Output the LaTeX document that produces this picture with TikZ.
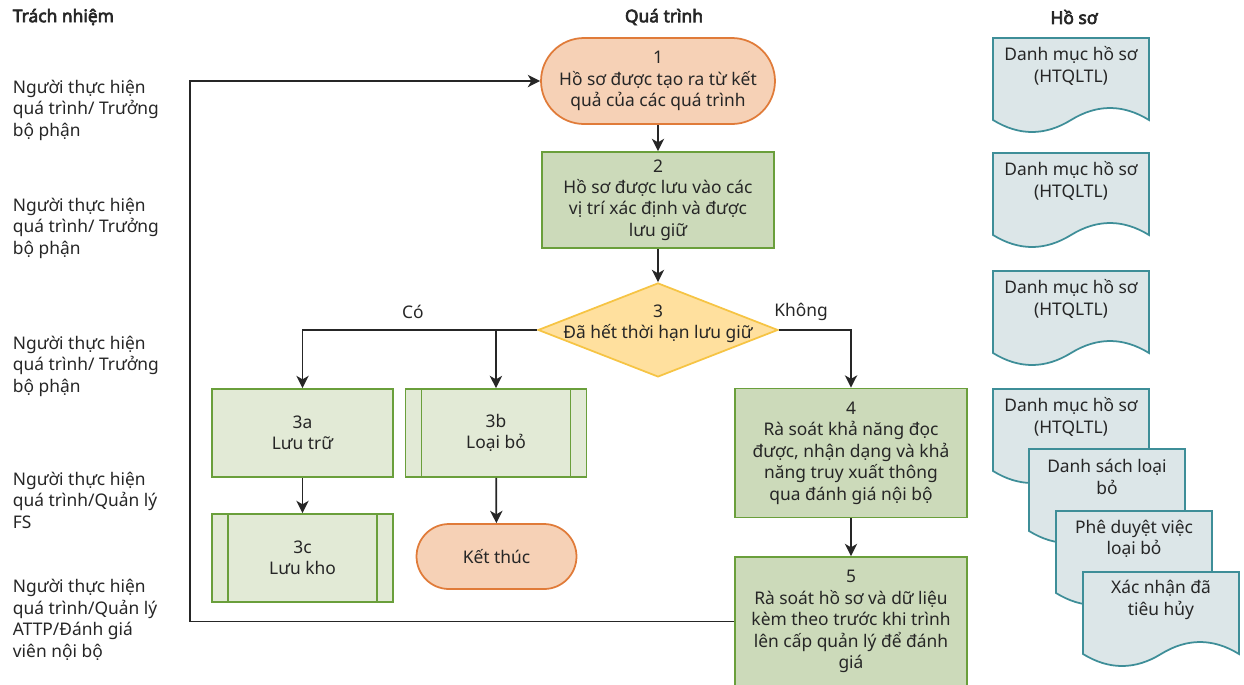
\documentclass[tikz,border=0pt]{standalone}
\usepackage{fontspec}
\setmainfont{Noto Sans}
\newfontfamily\headfont{Noto Sans}[FakeBold=3.6]
\usepackage{tikz}
\usetikzlibrary{positioning,shapes.geometric,arrows.meta}

\definecolor{ink}{HTML}{262626}
\definecolor{termfill}{HTML}{F6D1B6}
\definecolor{termline}{HTML}{E07B39}
\definecolor{procfill}{HTML}{CCDABA}
\definecolor{procline}{HTML}{6A9F3B}
\definecolor{subfill}{HTML}{E2EAD6}
\definecolor{decfill}{HTML}{FFE09E}
\definecolor{decline}{HTML}{F6C444}
\definecolor{docfill}{HTML}{DCE6E8}
\definecolor{docedge}{HTML}{3E8E98}

% document shape: name, top-left x, top-left y, text
\newcommand{\hsdoc}[4]{%
  \draw[docshape, shift={(#2,#3)}] (0,0) -- (156,0) -- (156,82)
    .. controls (130,66) and (104,66) .. (78,82)
    .. controls (52,98) and (26,98) .. (0,82) -- cycle;
  \node (#1) [align=center] at (#2+78,#3+28) {#4};}

\begin{document}
\begin{tikzpicture}[x=0.02cm, y=-0.02cm, line width=1pt, draw=ink, on grid,
  >={Stealth[length=7pt,width=7pt,inset=2pt]},
  every node/.style={font=\fontsize{9.9}{12.2}\selectfont, text=ink},
  head/.style={font=\headfont\fontsize{9.9}{12.2}\selectfont},
  role/.style={anchor=west, align=left, inner xsep=0pt},
  term/.style={rectangle, rounded corners=#1, fill=termfill, draw=termline, align=center},
  proc/.style={rectangle, fill=procfill, draw=procline, align=center, minimum width=4.64cm},
  sub/.style={rectangle, fill=subfill, draw=procline, align=center, minimum width=3.62cm, minimum height=1.76cm},
  predef/.style={sub, path picture={
      \draw[procline] ([xshift=0.32cm]path picture bounding box.north west) -- ([xshift=0.32cm]path picture bounding box.south west);
      \draw[procline] ([xshift=-0.32cm]path picture bounding box.north east) -- ([xshift=-0.32cm]path picture bounding box.south east);}},
  decision/.style={diamond, fill=decfill, draw=decline, inner sep=0pt, minimum width=4.8cm, minimum height=1.88cm},
  docshape/.style={fill=docfill, draw=docedge}]
\useasboundingbox (0,0) rectangle (1244,684);

% column heads
\node (hresp) [head, anchor=west, inner xsep=0pt] at (12,17) {Trách nhiệm};
\node (hproc) [head] at (664,17) {Quá trình};
\node (hdoc) [head] at (1074,17) {Hồ sơ};

% responsibilities
\node (r1) [role] at (12,110) {Người thực hiện\\quá trình/ Trưởng\\bộ phận};
\node (r2) [role] at (12,228) {Người thực hiện\\quá trình/ Trưởng\\bộ phận};
\node (r3) [role] at (12,366) {Người thực hiện\\quá trình/ Trưởng\\bộ phận};
\node (r4) [role] at (12,500) {Người thực hiện\\quá trình/Quản lý\\FS};
\node (r5) [role] at (12,620) {Người thực hiện\\quá trình/Quản lý\\ATTP/Đánh giá\\viên nội bộ};

% process
\node (n1) [term=0.86cm, minimum width=4.68cm, minimum height=1.72cm] at (658,81) {1\\Hồ sơ được tạo ra từ kết\\quả của các quá trình};
\node (n2) [proc, minimum height=1.92cm, below = 2.38cm of n1] {2\\Hồ sơ được lưu vào các\\vị trí xác định và được\\lưu giữ};
\node (d3) [decision, below = 2.6cm of n2,
  label={[align=center, yshift=0.12cm]center:3\\Đã hết thời hạn lưu giữ}] {};
\node (s3a) [sub] at (302.5,433) {3a\\Lưu trữ};
\node (s3b) [predef, right = 3.87cm of s3a] {3b\\Loại bỏ};
\node (s3c) [predef, below = 2.5cm of s3a] {3c\\Lưu kho};
\node (end) [term=0.65cm, minimum width=3.2cm, minimum height=1.3cm] at (496.5,556.5) {Kết thúc};
\node (p4) [proc, minimum height=2.58cm] at (851,453) {4\\Rà soát khả năng đọc\\được, nhận dạng và khả\\năng truy xuất thông\\qua đánh giá nội bộ};
\node (p5) [proc, minimum height=2.58cm, below = 3.37cm of p4] {5\\Rà soát hồ sơ và dữ liệu\\kèm theo trước khi trình\\lên cấp quản lý để đánh\\giá};

\node (yes) at (413,312) {Có};
\node (no) at (801,312) {Không};
\coordinate (back) at (190,0);

\draw[->] (n1) -- (n2);
\draw[->] (n2) -- (d3);
\draw[->] (d3.west) -| (s3a);
\draw[->] (d3.west) -| (s3b);
\draw[->] (d3.east) -| (p4);
\draw[->] (s3a) -- (s3c);
\draw[->] (s3b) -- (end);
\draw[->] (p4) -- (p5);
\draw[->] (p5.west) -| (back |- n1) -- (n1.west);

% records
\hsdoc{doc1}{993}{38}{Danh mục hồ sơ\\(HTQLTL)}
\hsdoc{doc2}{993}{153}{Danh mục hồ sơ\\(HTQLTL)}
\hsdoc{doc3}{993}{271}{Danh mục hồ sơ\\(HTQLTL)}
\hsdoc{doc4}{993}{389}{Danh mục hồ sơ\\(HTQLTL)}
\hsdoc{doc5}{1029}{449}{Danh sách loại\\bỏ}
\hsdoc{doc6}{1056}{511}{Phê duyệt việc\\loại bỏ}
\hsdoc{doc7}{1083}{572}{Xác nhận đã\\tiêu hủy}
\end{tikzpicture}
\end{document}
